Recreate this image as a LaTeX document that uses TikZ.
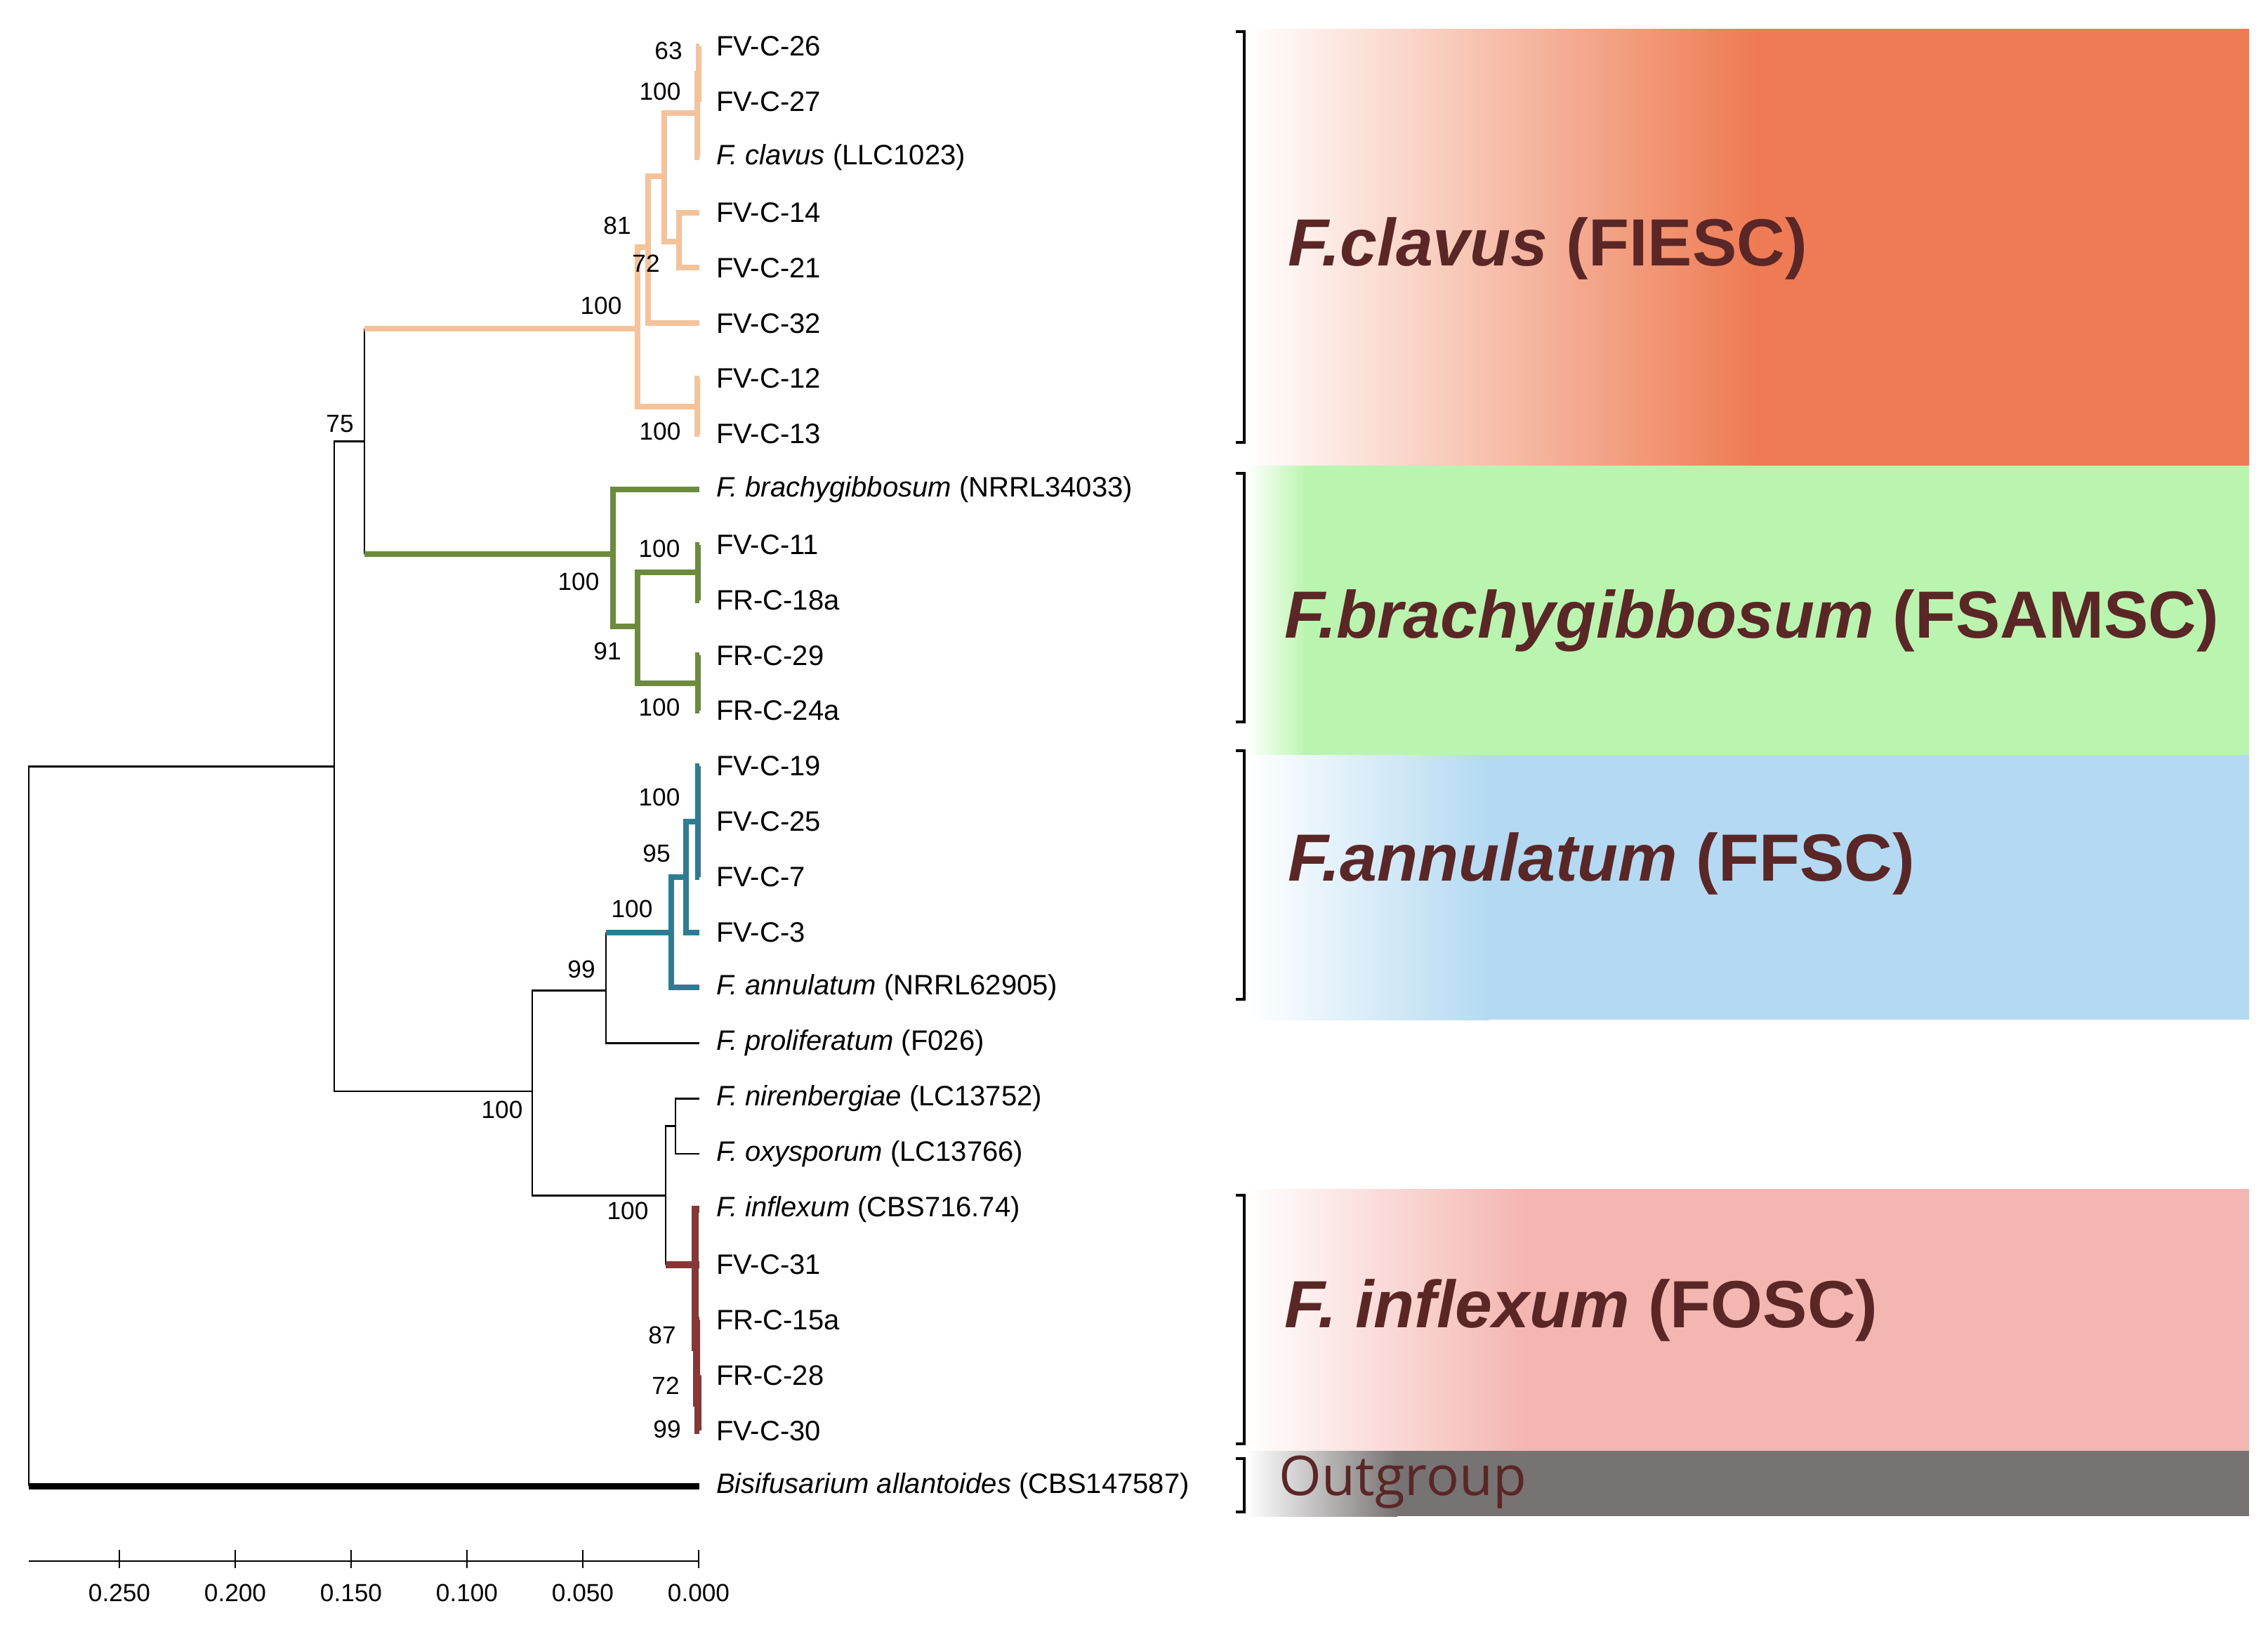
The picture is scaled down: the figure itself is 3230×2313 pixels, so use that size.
\documentclass[tikz,border=0pt]{standalone}
\usepackage{fontspec}
\setmainfont{Liberation Sans}
\newfontfamily\outfont{Open Sans}

\definecolor{clavusline}{HTML}{F5C29A}
\definecolor{brachyline}{HTML}{6D8B3C}
\definecolor{annuline}{HTML}{2E7C93}
\definecolor{inflexline}{HTML}{8A3636}
\definecolor{clavusband}{HTML}{EE7B53}
\definecolor{brachyband}{HTML}{BAF5AF}
\definecolor{annuband}{HTML}{B3DAF2}
\definecolor{inflexband}{HTML}{F4B6B1}
\definecolor{outband}{HTML}{787373}
\definecolor{cladetext}{HTML}{5A2626}

\tikzstyle{leaf} = [anchor=west, inner xsep=6pt, inner ysep=0pt, outer sep=0pt, font=\fontsize{10}{12}\selectfont]
\tikzstyle{boot} = [inner sep=0pt, font=\fontsize{8.8}{10}\selectfont]
\newcommand{\rowy}[1]{66+78.85*#1}

\begin{document}
\begin{tikzpicture}[x=0.25pt, y=-0.25pt,
			branch/.style = {line width=0.7pt, black},
			clavus/.style = {line width=2pt, clavusline},
			brachy/.style = {line width=2pt, brachyline},
			annu/.style = {line width=2pt, annuline},
			inflex/.style = {line width=2.4pt, inflexline},
			outg/.style = {line width=2.2pt, black},
			bracket/.style = {line width=1pt, black},
			clade/.style = {anchor=west, inner sep=0pt, text=cladetext, font=\bfseries\fontsize{23.75}{28}\selectfont}]
			\useasboundingbox (0,0) rectangle (3230,2313);
			
			% coloured bands
			\shade[left color=white, right color=clavusband] (1776,41) rectangle (2500,663);
			\fill[clavusband] (2499,41) rectangle (3203,663);
			\shade[left color=white, right color=brachyband] (1776,663) rectangle (1860,1075);
			\fill[brachyband] (1859,663) rectangle (3203,1075);
			\shade[left color=white, right color=annuband] (1776,1075) rectangle (2120,1452);
			\fill[annuband] (2119,1075) rectangle (3203,1452);
			\shade[left color=white, right color=inflexband] (1776,1693) rectangle (2170,2066);
			\fill[inflexband] (2169,1693) rectangle (3203,2066);
			\shade[left color=white, right color=outband] (1776,2066) rectangle (1990,2159);
			\fill[outband] (1989,2066) rectangle (3203,2159);
			
			% brackets
			\draw[bracket] (1760,45) -- (1772,45) -- (1772,630) -- (1760,630);
			\draw[bracket] (1760,674) -- (1772,674) -- (1772,1028) -- (1760,1028);
			\draw[bracket] (1760,1069) -- (1772,1069) -- (1772,1423) -- (1760,1423);
			\draw[bracket] (1760,1702) -- (1772,1702) -- (1772,2056) -- (1760,2056);
			\draw[bracket] (1760,2077) -- (1772,2077) -- (1772,2153) -- (1760,2153);
			
			\node[clade] (fiesc) at (1834,354) {\textit{F.clavus} (FIESC)};
			\node[clade] (fsamsc) at (1829,884) {\textit{F.brachygibbosum} (FSAMSC)};
			\node[clade] (ffsc) at (1834,1230) {\textit{F.annulatum} (FFSC)};
			\node[clade] (fosc) at (1829,1866) {\textit{F. inflexum} (FOSC)};
			\node[anchor=west, inner sep=0pt, text=cladetext, font=\outfont\fontsize{19.5}{22}\selectfont] (outgrp) at (1821,2111) {Outgroup};
			
			% leaves
			\node[leaf] (fvc26) at (996,{\rowy{0}}) {FV-C-26};
			\node[leaf] (fvc27) at (996,{\rowy{1}}) {FV-C-27};
			\node[leaf] (fclav) at (996,{\rowy{2}}) {\textit{F. clavus} (LLC1023)};
			\node[leaf] (fvc14) at (996,{\rowy{3}}) {FV-C-14};
			\node[leaf] (fvc21) at (996,{\rowy{4}}) {FV-C-21};
			\node[leaf] (fvc32) at (996,{\rowy{5}}) {FV-C-32};
			\node[leaf] (fvc12) at (996,{\rowy{6}}) {FV-C-12};
			\node[leaf] (fvc13) at (996,{\rowy{7}}) {FV-C-13};
			\node[leaf] (fbrac) at (996,{\rowy{8}}) {\textit{F. brachygibbosum} (NRRL34033)};
			\node[leaf] (fvc11) at (996,{\rowy{9}}) {FV-C-11};
			\node[leaf] (frc18) at (996,{\rowy{10}}) {FR-C-18a};
			\node[leaf] (frc29) at (996,{\rowy{11}}) {FR-C-29};
			\node[leaf] (frc24) at (996,{\rowy{12}}) {FR-C-24a};
			\node[leaf] (fvc19) at (996,{\rowy{13}}) {FV-C-19};
			\node[leaf] (fvc25) at (996,{\rowy{14}}) {FV-C-25};
			\node[leaf] (fvc7) at (996,{\rowy{15}}) {FV-C-7};
			\node[leaf] (fvc3) at (996,{\rowy{16}}) {FV-C-3};
			\node[leaf] (fannu) at (996,{\rowy{17}}) {\textit{F. annulatum} (NRRL62905)};
			\node[leaf] (fprol) at (996,{\rowy{18}}) {\textit{F. proliferatum} (F026)};
			\node[leaf] (fnire) at (996,{\rowy{19}}) {\textit{F. nirenbergiae} (LC13752)};
			\node[leaf] (foxys) at (996,{\rowy{20}}) {\textit{F. oxysporum} (LC13766)};
			\node[leaf] (finfl) at (996,{\rowy{21}}) {\textit{F. inflexum} (CBS716.74)};
			\node[leaf] (fvc31) at (996,{\rowy{22}}) {FV-C-31};
			\node[leaf] (frc15) at (996,{\rowy{23}}) {FR-C-15a};
			\node[leaf] (frc28) at (996,{\rowy{24}}) {FR-C-28};
			\node[leaf] (fvc30) at (996,{\rowy{25}}) {FV-C-30};
			\node[leaf] (bisif) at (996,{\rowy{26}}) {\textit{Bisifusarium allantoides} (CBS147587)};
			
			% inner nodes
			\coordinate (root) at (41,{\rowy{26}});
			\coordinate (ingr) at (476,{\rowy{13.01}});
			\coordinate (n75) at (519,{\rowy{7.13}});
			\coordinate (n63) at (995,{\rowy{0.5}});
			\coordinate (ncl) at (993,{\rowy{1.2}});
			\coordinate (n1421) at (967,{\rowy{3.53}});
			\coordinate (nc) at (946,{\rowy{2.34}});
			\coordinate (nb) at (923,{\rowy{3.63}});
			\coordinate (n1213) at (993,{\rowy{6.5}});
			\coordinate (na) at (908,{\rowy{5.1}});
			\coordinate (g1) at (873,{\rowy{9.17}});
			\coordinate (g2) at (908,{\rowy{10.48}});
			\coordinate (n1118) at (994,{\rowy{9.5}});
			\coordinate (n2924) at (994,{\rowy{11.5}});
			\coordinate (nlow) at (758,{\rowy{18.87}});
			\coordinate (n99) at (863,{\rowy{17.05}});
			\coordinate (nb100) at (956,{\rowy{16}});
			\coordinate (nb95) at (977,{\rowy{15}});
			\coordinate (nb1) at (994,{\rowy{14}});
			\coordinate (ninf) at (948,{\rowy{20.75}});
			\coordinate (noxy) at (962,{\rowy{19.5}});
			\coordinate (nred) at (990,{\rowy{22}});
			\coordinate (nr87) at (992,{\rowy{23.5}});
			\coordinate (nr72) at (994,{\rowy{24.5}});
			
			% backbone
			\draw[branch] (root) |- (ingr);
			\draw[outg] (root) -- (bisif);
			\draw[branch] (ingr) |- (n75) (ingr) |- (nlow);
			\draw[branch] (n75) -- (n75 |- na) (n75) -- (n75 |- g1);
			\draw[clavus] (n75 |- na) -- (na);
			\draw[brachy] (n75 |- g1) -- (g1);
			
			% F. clavus clade
			\draw[clavus] (n63) |- (fvc26) (n63) |- (fvc27);
			\draw[clavus] (ncl) |- (n63) (ncl) |- (fclav);
			\draw[clavus] (n1421) |- (fvc14) (n1421) |- (fvc21);
			\draw[clavus] (nc) |- (ncl) (nc) |- (n1421);
			\draw[clavus] (nb) |- (nc) (nb) |- (fvc32);
			\draw[clavus] (n1213) |- (fvc12) (n1213) |- (fvc13);
			\draw[clavus] (na) |- (nb) (na) |- (n1213);
			
			% F. brachygibbosum clade
			\draw[brachy] (g1) |- (fbrac) (g1) |- (g2);
			\draw[brachy] (g2) |- (n1118) (g2) |- (n2924);
			\draw[brachy] (n1118) |- (fvc11) (n1118) |- (frc18);
			\draw[brachy] (n2924) |- (frc29) (n2924) |- (frc24);
			
			% F. annulatum clade
			\draw[branch] (nlow) |- (n99) (nlow) |- (ninf);
			\draw[branch] (n99) |- (fprol) (n99) -- (n99 |- nb100);
			\draw[annu] (n99 |- nb100) -- (nb100);
			\draw[annu] (nb100) |- (nb95) (nb100) |- (fannu);
			\draw[annu] (nb95) |- (nb1) (nb95) |- (fvc3);
			\draw[annu] (nb1) |- (fvc19) (nb1) |- (fvc25) (nb1) |- (fvc7);
			
			% F. inflexum clade
			\draw[branch] (ninf) |- (noxy) (ninf) -- (ninf |- nred);
			\draw[branch] (noxy) |- (fnire) (noxy) |- (foxys);
			\draw[inflex] (ninf |- nred) -- (nred);
			\draw[inflex] (nred) |- (finfl) (nred) |- (fvc31) (nred) |- (nr87);
			\draw[inflex] (nr87) |- (frc15) (nr87) |- (nr72);
			\draw[inflex] (nr72) |- (frc28) (nr72) |- (fvc30);
			
			% bootstrap values
			\node[boot] (b1) at (952,72) {63};
			\node[boot] (b2) at (940,130) {100};
			\node[boot] (b3) at (879,321) {81};
			\node[boot] (b4) at (920,375) {72};
			\node[boot] (b5) at (856,435) {100};
			\node[boot] (b6) at (940,614) {100};
			\node[boot] (b7) at (484,604) {75};
			\node[boot] (b8) at (939,781) {100};
			\node[boot] (b9) at (824,828) {100};
			\node[boot] (b10) at (865,927) {91};
			\node[boot] (b11) at (939,1007) {100};
			\node[boot] (b12) at (939,1135) {100};
			\node[boot] (b13) at (935,1215) {95};
			\node[boot] (b14) at (900,1294) {100};
			\node[boot] (b15) at (828,1380) {99};
			\node[boot] (b16) at (715,1580) {100};
			\node[boot] (b17) at (894,1724) {100};
			\node[boot] (b18) at (943,1901) {87};
			\node[boot] (b19) at (948,1973) {72};
			\node[boot] (b20) at (950,2035) {99};
			
			% scale
			\draw[branch] (41,2223) -- (995,2223);
			\foreach \x/\v in {170/0.250, 335/0.200, 500/0.150, 665/0.100, 830/0.050, 995/0.000}
				\draw[branch] (\x,2207) -- (\x,2233) node (s\x) [boot, at={(\x,2268)}] {\v};
		\end{tikzpicture}
\end{document}
